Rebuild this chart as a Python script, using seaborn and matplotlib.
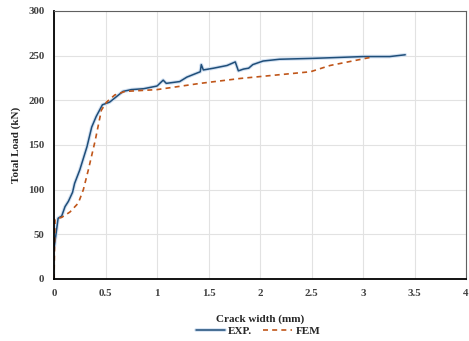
import pandas as pd
import matplotlib
matplotlib.use("Agg")
import matplotlib.pyplot as plt
import matplotlib.patheffects as pe
import seaborn as sns

# experimental curve (crack width mm, load kN)
exp_width = [0, 0, 0.04, 0.075, 0.107, 0.14, 0.18, 0.20, 0.25, 0.32, 0.366, 0.41, 0.47,
             0.54, 0.67, 0.75, 0.87, 1.0, 1.06, 1.09, 1.22, 1.29, 1.42, 1.43, 1.45,
             1.55, 1.68, 1.76, 1.79, 1.84, 1.89, 1.93, 2.03, 2.19, 2.52, 3.0, 3.26, 3.41]
exp_load = [0, 67, 68, 70.5, 81, 87, 97, 107, 122, 148, 170, 182, 195,
            198, 210, 212, 213, 216, 222.6, 219, 221, 226, 232, 240, 234,
            236, 239, 243, 233, 235, 236, 240, 244, 246, 247, 249, 249, 251]

# finite element curve
fem_width = [0, 0.01, 0.075, 0.155, 0.236, 0.285, 0.333, 0.40, 0.46, 0.51, 0.59,
             0.69, 1.0, 1.42, 1.81, 2.49, 2.68, 3.07]
fem_load = [0, 67, 69, 75, 85, 100, 122, 155, 189, 198, 206,
            210, 212, 219, 224.5, 232, 239, 248]

exp_df = pd.DataFrame({"width": exp_width, "load": exp_load})
fem_df = pd.DataFrame({"width": fem_width, "load": fem_load})

sns.set_style("whitegrid")
plt.rcParams["font.family"] = ["Liberation Serif", "DejaVu Serif"]
plt.rcParams["font.weight"] = "bold"

fig = plt.figure(figsize=(4.69, 3.41), dpi=100)
ax = fig.add_axes([54 / 469, 1 - 279 / 341, 412 / 469, 268 / 341])

sns.lineplot(data=exp_df, x="width", y="load", sort=False, ax=ax,
             color="#1f4e79", linewidth=1.1, label="EXP.",
             path_effects=[pe.Stroke(linewidth=2.6, foreground="#d3e1f2"), pe.Normal()])
sns.lineplot(data=fem_df, x="width", y="load", sort=False, ax=ax,
             color="#c0561a", linewidth=1.2, linestyle=(0, (3, 2.5)), label="FEM")

ax.set_xlim(0, 4)
ax.set_ylim(0, 300)
ax.set_xticks([0, 0.5, 1, 1.5, 2, 2.5, 3, 3.5, 4])
ax.set_xticklabels(["0", "0.5", "1", "1.5", "2", "2.5", "3", "3.5", "4"])
ax.set_yticks(range(0, 301, 50))
ax.tick_params(labelsize=7.8, colors="#404040", length=0, pad=7)
for lab in ax.get_xticklabels() + ax.get_yticklabels():
    lab.set_fontweight("bold")

ax.grid(color="#e2e2e2", linewidth=0.8)
for side in ["top", "right"]:
    ax.spines[side].set_color("#606060")
    ax.spines[side].set_linewidth(0.8)
for side in ["left", "bottom"]:
    ax.spines[side].set_color("#000000")
    ax.spines[side].set_linewidth(1.3)

ax.set_xlabel("Crack width (mm)", fontsize=8, fontweight="bold", labelpad=12)
ax.set_ylabel("Total Load (kN)", fontsize=8, fontweight="bold", labelpad=5)

ax.legend_.remove()
handles, labels = ax.get_legend_handles_labels()
fig.legend(handles, labels, loc="center", bbox_to_anchor=(258 / 469, 1 - 331 / 341),
           ncol=2, frameon=False, fontsize=8, handlelength=2.6, columnspacing=1.0,
           handletextpad=0.3)

fig.savefig("out.png", dpi=100)
